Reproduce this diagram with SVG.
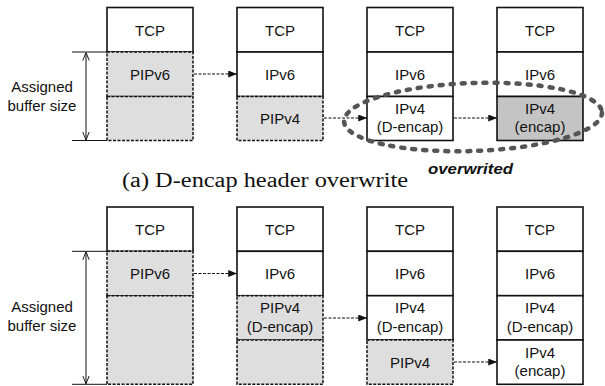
<svg xmlns="http://www.w3.org/2000/svg" width="605" height="386" viewBox="0 0 605 386">
<defs>
<style>
.w{fill:#fff;stroke:#111;stroke-width:1.6}
.g{fill:#dedede;stroke:#111;stroke-width:1.5;stroke-dasharray:3 1.5}
.d{fill:#c4c4c4;stroke:#111;stroke-width:1.6}
.t{font-family:"Liberation Sans",Arial,sans-serif;font-size:15px;fill:#111;text-anchor:middle}
.c{stroke:#111;stroke-width:1.2;stroke-dasharray:3 1.5;fill:none}
.dim{stroke:#111;stroke-width:1;fill:none}
</style>
<marker id="ah" viewBox="0 0 10 8" refX="10" refY="4" markerWidth="10" markerHeight="7" markerUnits="userSpaceOnUse" orient="auto">
<path d="M0,0 L10,4 L0,8 Z" fill="#111"/>
</marker>
<marker id="open" viewBox="0 0 10 10" refX="10" refY="5" markerWidth="8" markerHeight="8" markerUnits="userSpaceOnUse" orient="auto-start-reverse">
<path d="M0,1 L10,5 L0,9" fill="none" stroke="#111" stroke-width="1.2"/>
</marker>
</defs>
<rect width="605" height="386" fill="#fff"/>

<!-- (a) top -->
<g id="a1-tcp"><rect class="w" x="107" y="7.5" width="86" height="44.5"/><text class="t" x="150" y="35.5">TCP</text></g>
<g id="a1-pipv6"><rect class="g" x="107" y="52" width="86" height="44.5"/><text class="t" x="150" y="79.5">PIPv6</text></g>
<g id="a1-free"><rect class="g" x="107" y="96.5" width="86" height="44"/></g>

<g id="a2-tcp"><rect class="w" x="237" y="7.5" width="86" height="44.5"/><text class="t" x="280" y="35.5">TCP</text></g>
<g id="a2-ipv6"><rect class="w" x="237" y="52" width="86" height="44.5"/><text class="t" x="280" y="79.5">IPv6</text></g>
<g id="a2-pipv4"><rect class="g" x="237" y="96.5" width="86" height="44"/><text class="t" x="280" y="123.5">PIPv4</text></g>

<g id="a3-tcp"><rect class="w" x="367" y="7.5" width="86" height="44.5"/><text class="t" x="410" y="35.5">TCP</text></g>
<g id="a3-ipv6"><rect class="w" x="367" y="52" width="86" height="44.5"/><text class="t" x="410" y="79.5">IPv6</text></g>
<g id="a3-ipv4"><rect class="w" x="367" y="96.5" width="86" height="44"/><text class="t" x="410" y="113.5">IPv4</text><text class="t" x="410" y="132">(D-encap)</text></g>

<g id="a4-tcp"><rect class="w" x="497" y="7.5" width="86" height="44.5"/><text class="t" x="540" y="35.5">TCP</text></g>
<g id="a4-ipv6"><rect class="w" x="497" y="52" width="86" height="44.5"/><text class="t" x="540" y="79.5">IPv6</text></g>
<g id="a4-ipv4"><rect class="d" x="497" y="96.5" width="86" height="44"/><text class="t" x="540" y="113.5">IPv4</text><text class="t" x="540" y="132">(encap)</text></g>

<g id="a-dim">
<line class="dim" x1="72" y1="52" x2="107" y2="52"/>
<line class="dim" x1="72" y1="140.5" x2="107" y2="140.5"/>
<line class="dim" x1="86" y1="52.5" x2="86" y2="140" marker-start="url(#open)" marker-end="url(#open)"/>
<text class="t" x="42" y="92">Assigned</text>
<text class="t" x="42" y="111">buffer size</text>
</g>

<!-- (b) bottom -->
<g id="b1-tcp"><rect class="w" x="107" y="207" width="86" height="44.3"/><text class="t" x="150" y="234.5">TCP</text></g>
<g id="b1-pipv6"><rect class="g" x="107" y="251.3" width="86" height="44.4"/><text class="t" x="150" y="279">PIPv6</text></g>
<g id="b1-free"><rect class="g" x="107" y="295.7" width="86" height="88.6"/></g>

<g id="b2-tcp"><rect class="w" x="237" y="207" width="86" height="44.3"/><text class="t" x="280" y="234.5">TCP</text></g>
<g id="b2-ipv6"><rect class="w" x="237" y="251.3" width="86" height="44.4"/><text class="t" x="280" y="279">IPv6</text></g>
<g id="b2-pipv4"><rect class="g" x="237" y="295.7" width="86" height="44.3"/><text class="t" x="280" y="313">PIPv4</text><text class="t" x="280" y="331.5">(D-encap)</text></g>
<g id="b2-free"><rect class="g" x="237" y="340" width="86" height="44.3"/></g>

<g id="b3-tcp"><rect class="w" x="367" y="207" width="86" height="44.3"/><text class="t" x="410" y="234.5">TCP</text></g>
<g id="b3-ipv6"><rect class="w" x="367" y="251.3" width="86" height="44.4"/><text class="t" x="410" y="279">IPv6</text></g>
<g id="b3-ipv4"><rect class="w" x="367" y="295.7" width="86" height="44.3"/><text class="t" x="410" y="313">IPv4</text><text class="t" x="410" y="331.5">(D-encap)</text></g>
<g id="b3-pipv4"><rect class="g" x="367" y="340" width="86" height="44.3"/><text class="t" x="410" y="367.5">PIPv4</text></g>

<g id="b4-tcp"><rect class="w" x="497" y="207" width="86" height="44.3"/><text class="t" x="540" y="234.5">TCP</text></g>
<g id="b4-ipv6"><rect class="w" x="497" y="251.3" width="86" height="44.4"/><text class="t" x="540" y="279">IPv6</text></g>
<g id="b4-ipv4d"><rect class="w" x="497" y="295.7" width="86" height="44.3"/><text class="t" x="540" y="313">IPv4</text><text class="t" x="540" y="331.5">(D-encap)</text></g>
<g id="b4-ipv4e"><rect class="w" x="497" y="340" width="86" height="44.3"/><text class="t" x="540" y="357.5">IPv4</text><text class="t" x="540" y="376">(encap)</text></g>

<g id="b-dim">
<line class="dim" x1="72" y1="251.3" x2="107" y2="251.3"/>
<line class="dim" x1="72" y1="384.3" x2="107" y2="384.3"/>
<line class="dim" x1="86" y1="251.8" x2="86" y2="383.8" marker-start="url(#open)" marker-end="url(#open)"/>
<text class="t" x="42" y="312">Assigned</text>
<text class="t" x="42" y="331">buffer size</text>
</g>

<g id="connectors">
<line class="c" x1="194" y1="74" x2="237" y2="74" marker-end="url(#ah)"/>
<line class="c" x1="324" y1="118" x2="367" y2="118" marker-end="url(#ah)"/>
<line class="c" x1="454" y1="118" x2="497" y2="118" marker-end="url(#ah)"/>
<line class="c" x1="194" y1="273.5" x2="237" y2="273.5" marker-end="url(#ah)"/>
<line class="c" x1="324" y1="318" x2="367" y2="318" marker-end="url(#ah)"/>
<line class="c" x1="454" y1="362" x2="497" y2="362" marker-end="url(#ah)"/>
</g>

<g id="overwrite-mark">
<ellipse cx="473" cy="117" rx="129" ry="34" transform="rotate(-2 473 117)" fill="none" stroke="#555" stroke-width="4.5" stroke-linecap="round" stroke-dasharray="3 8"/>
<text x="428" y="174" font-family="'Liberation Sans',Arial,sans-serif" font-size="15" font-weight="bold" font-style="italic" fill="#111" textLength="85" lengthAdjust="spacingAndGlyphs">overwrited</text>
</g>

<text id="caption" x="122" y="187" font-family="'Liberation Serif','Times New Roman',serif" font-size="20" fill="#111" textLength="286" lengthAdjust="spacingAndGlyphs">(a) D-encap header overwrite</text>
</svg>
